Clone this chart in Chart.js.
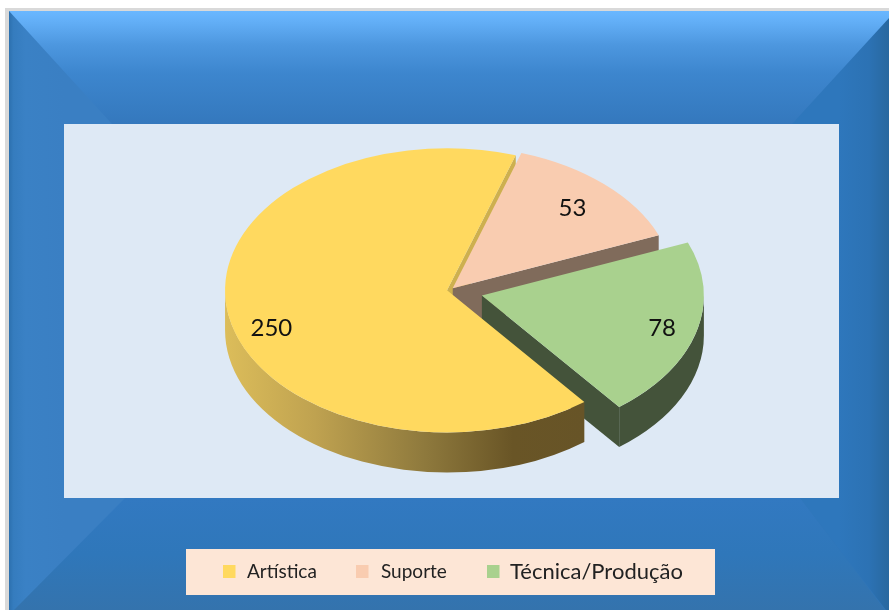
<!DOCTYPE html>
<html><head><meta charset="utf-8">
<style>html,body{margin:0;padding:0;background:#fff;overflow:hidden}canvas{display:block}</style>
<script src="https://cdn.jsdelivr.net/npm/chart.js@4"></script>
</head><body>
<canvas id="c" width="889" height="610"></canvas>
<script>
const categories = ['Artística', 'Suporte', 'Técnica/Produção'];
const values = [250, 53, 78];
const sliceColors = ['#ffd95f', '#f9ccb0', '#a9d18e'];
const wallColors = ['#cdb04f', '#806b5b', '#44533a'];
const explode = [3, 4, 33];
const legendFonts = [19, 19, 22];
const labelRadius = [0.83, 0.79, 0.84];

const tilt = 0.64, depth = 40;
const LATO = 'Lato, "Noto Sans", sans-serif';

function poly(ctx, pts){ ctx.beginPath(); pts.forEach((p,i)=> i?ctx.lineTo(p[0],p[1]):ctx.moveTo(p[0],p[1])); ctx.closePath(); }
function lin(ctx,x0,y0,x1,y1,stops){ const g=ctx.createLinearGradient(x0,y0,x1,y1); stops.forEach(s=>g.addColorStop(s[0],s[1])); return g; }

const framePlugin = {
  id:'frame',
  beforeDraw(chart){
    const ctx = chart.ctx, W = chart.width, H = chart.height;
    const x0=9,y0=11, px0=64,py0=124,px1=839,py1=498;
    ctx.save();
    ctx.fillStyle='#fff'; ctx.fillRect(0,0,W,H);
    ctx.fillStyle='#d9d9d9'; ctx.fillRect(5,8,W-5,H-8);
    ctx.fillStyle='#2f75b8'; ctx.fillRect(x0,y0,W-x0,H-y0);
    // left
    ctx.fillStyle=lin(ctx,x0,0,px0,0,[[0,'#2c70ae'],[.08,'#357cbe'],[.3,'#3a81c5'],[1,'#3a7fc3']]);
    ctx.fillRect(x0,y0,px0-x0+70,H-y0);
    // right
    poly(ctx,[[W,18],[792,py0],[800,py1],[W,H+4]]);
    ctx.fillStyle=lin(ctx,px1,0,W,0,[[0,'#2e77bc'],[.6,'#2c72b4'],[1,'#28689f']]);
    ctx.fill();
    // top
    poly(ctx,[[x0,y0],[W,y0],[W,18],[792,py0],[112,py0]]);
    ctx.fillStyle=lin(ctx,0,y0,0,py0,[[0,'#6ab7ff'],[.1,'#62aef6'],[.3,'#4d97df'],[.55,'#3d86ce'],[1,'#3478bd']]);
    ctx.fill();
    // bottom
    poly(ctx,[[14,H],[W-4,H],[800,py1],[125,py1]]);
    ctx.fillStyle=lin(ctx,0,py1,0,H,[[0,'#3279c1'],[.5,'#2f77ba'],[1,'#3473ad']]);
    ctx.fill();
    // panel
    ctx.fillStyle='#dee9f5'; ctx.fillRect(px0,py0,px1-px0,py1-py0);
    ctx.restore();
  }
};

const pie3dPlugin = {
  id:'pie3d',
  beforeDatasetDraw(chart){
    const ctx = chart.ctx, els = chart.getDatasetMeta(0).data;
    const cx = els[0].x, cy = els[0].y;
    const geo = els.map((el,i)=>{
      const mid=(el.startAngle+el.endAngle)/2;
      return {ax:cx+Math.cos(mid)*explode[i], ay:cy+Math.sin(mid)*explode[i]*tilt,
              a0:el.startAngle,a1:el.endAngle,r:el.outerRadius};
    });
    const pt=(g,a)=>[g.ax+Math.cos(a)*g.r, g.ay+Math.sin(a)*g.r*tilt];
    const radial=(g,a,color)=>{
      const p=pt(g,a);
      poly(ctx,[[g.ax,g.ay],p,[p[0],p[1]+depth],[g.ax,g.ay+depth]]);
      ctx.fillStyle=color; ctx.fill();
    };
    const outer=(g,color)=>{
      // only the front half (sin>0) of the rim can be seen
      let a0=g.a0,a1=g.a1;
      const spans=[];
      for(let k=-1;k<=2;k++){ const lo=Math.max(a0,k*2*Math.PI), hi=Math.min(a1,k*2*Math.PI+Math.PI); if(hi>lo) spans.push([lo,hi]); }
      spans.forEach(s=>{
        ctx.beginPath();
        ctx.ellipse(g.ax,g.ay,g.r,g.r*tilt,0,s[0],s[1]);
        ctx.ellipse(g.ax,g.ay+depth,g.r,g.r*tilt,0,s[1],s[0],true);
        ctx.closePath(); ctx.fillStyle=color; ctx.fill();
      });
    };
    ctx.save();
    // back-to-front order of the side walls
    radial(geo[0],geo[0].a1,wallColors[0]);
    radial(geo[1],geo[1].a1,wallColors[1]);
    outer(geo[1],wallColors[1]);
    radial(geo[2],geo[2].a1,wallColors[2]);
    outer(geo[2],wallColors[2]);
    const yg=lin(ctx,geo[0].ax-geo[0].r,0,geo[0].ax+geo[0].r*0.62,0,[[0,'#dcbd5a'],[.25,'#bfa250'],[.55,'#8f7a3d'],[.8,'#695526'],[1,'#675427']]);
    outer(geo[0],yg);
    // top faces, drawn by the library's arc elements
    [1,2,0].forEach(i=>{
      ctx.save();
      ctx.translate(geo[i].ax,geo[i].ay);
      ctx.scale(1,tilt);
      ctx.translate(-cx,-cy);
      els[i].draw(ctx);
      ctx.restore();
    });
    ctx.restore();
    return false;
  },
  afterDatasetsDraw(chart){
    const ctx = chart.ctx, els = chart.getDatasetMeta(0).data;
    const cx = els[0].x, cy = els[0].y;
    ctx.save();
    ctx.fillStyle='#111'; ctx.textAlign='center'; ctx.textBaseline='middle';
    ctx.font='24px '+LATO;
    const shift=[-7.5*Math.PI/180,0,0];
    els.forEach((el,i)=>{
      const mid=(el.startAngle+el.endAngle)/2;
      const ax=cx+Math.cos(mid)*explode[i], ay=cy+Math.sin(mid)*explode[i]*tilt;
      const a=mid+shift[i], r=el.outerRadius*labelRadius[i];
      ctx.fillText(String(values[i]), ax+Math.cos(a)*r, ay+Math.sin(a)*r*tilt+2);
    });
    // legend
    ctx.fillStyle='#fde6d6'; ctx.fillRect(186,549,529,46);
    const sx=[223,356,487], tx=[247,381,510];
    ctx.textAlign='left';
    categories.forEach((c,i)=>{
      ctx.fillStyle=sliceColors[i]; ctx.fillRect(sx[i],565,12.5,13);
      ctx.fillStyle='#222'; ctx.font=legendFonts[i]+'px '+LATO;
      ctx.fillText(c,tx[i],572);
    });
    ctx.restore();
  }
};

new Chart(document.getElementById('c'),{
  type:'pie',
  data:{labels:categories,datasets:[{data:values,backgroundColor:sliceColors,borderWidth:0,hoverOffset:0}]},
  options:{
    responsive:false,animation:false,rotation:141.8,radius:222,
    layout:{padding:{top:65,bottom:95,left:11,right:0}},
    plugins:{legend:{display:false},tooltip:{enabled:false},title:{display:false}}
  },
  plugins:[framePlugin,pie3dPlugin]
});
</script>
</body></html>
